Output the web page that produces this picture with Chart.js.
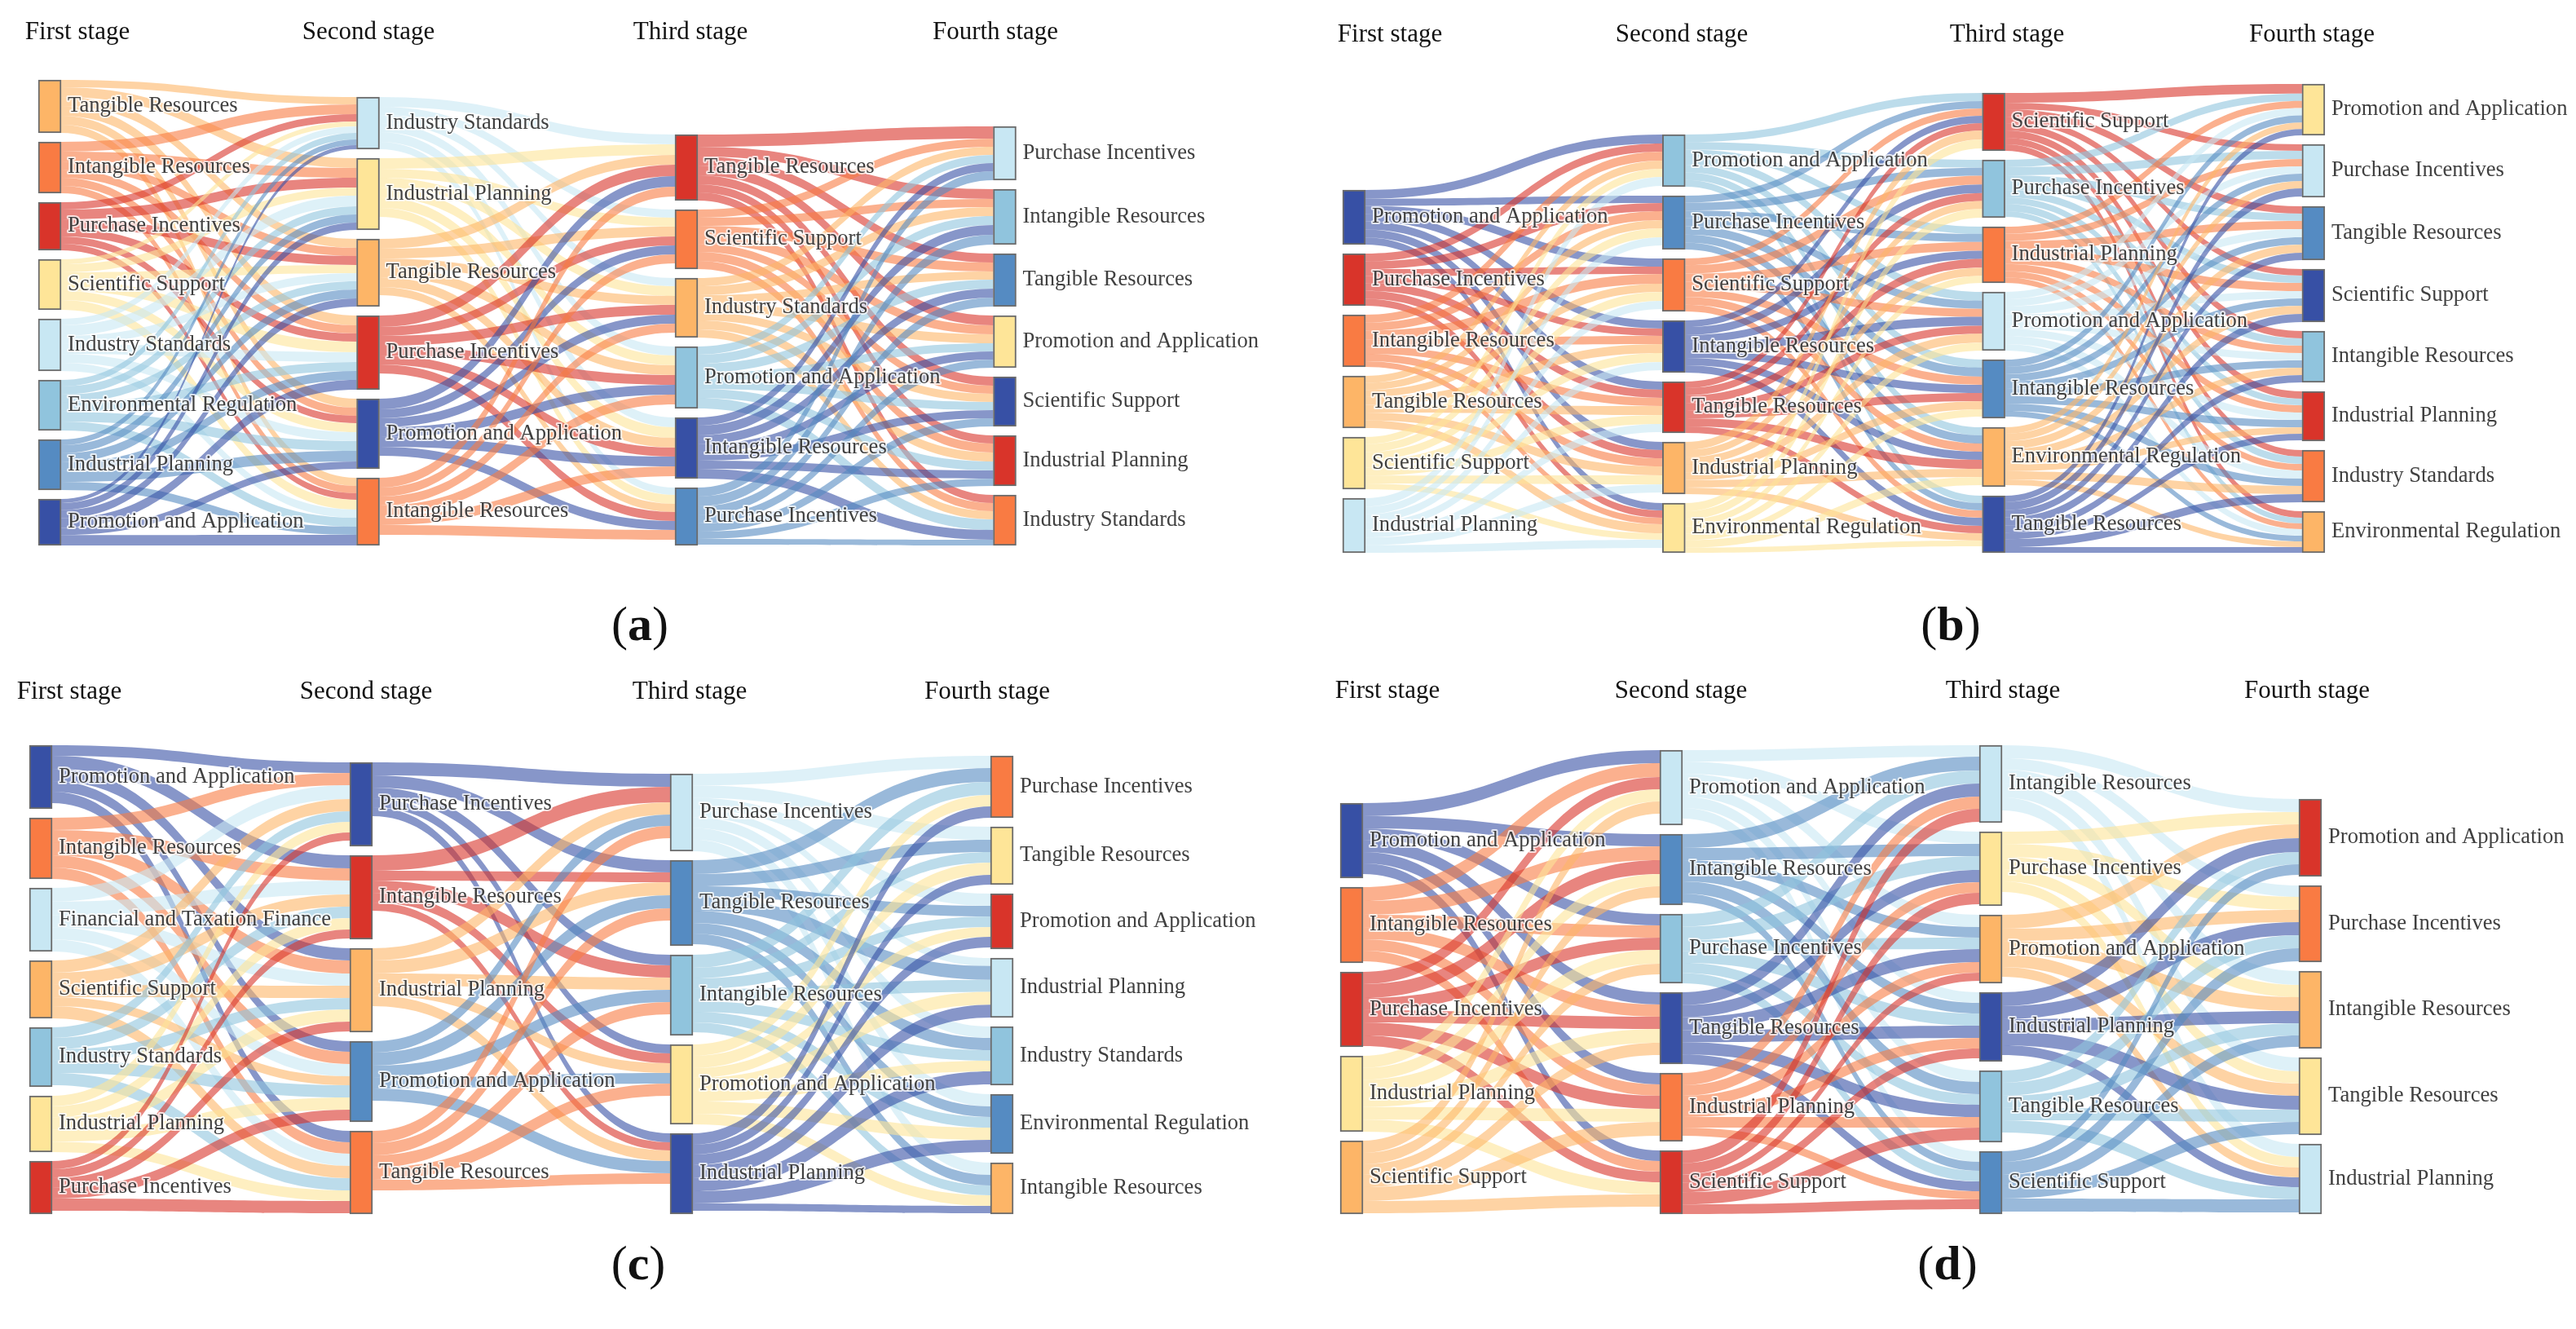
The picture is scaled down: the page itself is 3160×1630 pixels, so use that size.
<!DOCTYPE html>
<html>
<head>
<meta charset="utf-8">
<title>Sankey stages</title>
<script src="https://cdn.jsdelivr.net/npm/chart.js@4/dist/chart.umd.min.js"></script>
<style>
  html, body { margin: 0; padding: 0; background: #fff; }
  #page { position: relative; width: 3160px; height: 1630px; overflow: hidden; }
  canvas { position: absolute; }
  .caption { position: absolute; font: 60px "Liberation Serif", serif; color: #111; width: 120px; text-align: center; }
</style>
</head>
<body>
<div id="page">
  <canvas id="panelA"></canvas>
  <canvas id="panelB"></canvas>
  <canvas id="panelC"></canvas>
  <canvas id="panelD"></canvas>
  <div class="caption" style="left:725px;top:731px">(<b>a</b>)</div>
  <div class="caption" style="left:2333px;top:731px">(<b>b</b>)</div>
  <div class="caption" style="left:723px;top:1515px">(<b>c</b>)</div>
  <div class="caption" style="left:2329px;top:1515px">(<b>d</b>)</div>
</div>
<script>
// ─── DATA ───
const stageNames = ['First stage', 'Second stage', 'Third stage', 'Fourth stage'];

// panel (a)
const aLabels = [
  ['Tangible Resources', 'Intangible Resources', 'Purchase Incentives', 'Scientific Support', 'Industry Standards', 'Environmental Regulation', 'Industrial Planning', 'Promotion and Application'],
  ['Industry Standards', 'Industrial Planning', 'Tangible Resources', 'Purchase Incentives', 'Promotion and Application', 'Intangible Resources'],
  ['Tangible Resources', 'Scientific Support', 'Industry Standards', 'Promotion and Application', 'Intangible Resources', 'Purchase Incentives'],
  ['Purchase Incentives', 'Intangible Resources', 'Tangible Resources', 'Promotion and Application', 'Scientific Support', 'Industrial Planning', 'Industry Standards'],
];
const aNodes = [
  [65, 63, 59, 62, 64, 62, 62, 57],
  [64, 88, 83, 91, 86, 83],
  [81, 73, 73, 76, 75, 71],
  [66, 68, 65, 64, 61, 62, 62],
];
const aFlows = [
  [[9, 12, 11, 12, 11, 10], [12, 12, 10, 10, 10, 9], [9, 12, 11, 10, 9, 8], [6, 10, 10, 13, 11, 12],
   [8, 13, 10, 12, 11, 10], [8, 10, 10, 11, 12, 11], [7, 10, 11, 11, 13, 10], [5, 9, 10, 12, 9, 13]],
  [[12, 10, 10, 11, 12, 9], [13, 11, 12, 12, 13, 11], [12, 12, 11, 12, 12, 10],
   [14, 11, 12, 12, 11, 11], [13, 11, 11, 12, 12, 11], [12, 11, 11, 12, 12, 12]],
  [[15, 12, 11, 12, 11, 10, 10], [10, 10, 11, 11, 10, 11, 10], [10, 11, 10, 11, 10, 11, 10],
   [10, 11, 11, 10, 10, 11, 13], [10, 12, 11, 10, 10, 10, 12], [11, 12, 11, 10, 10, 9, 7]],
];

// panel (b)
const bLabels = [
  ['Promotion and Application', 'Purchase Incentives', 'Intangible Resources', 'Tangible Resources', 'Scientific Support', 'Industrial Planning'],
  ['Promotion and Application', 'Purchase Incentives', 'Scientific Support', 'Intangible Resources', 'Tangible Resources', 'Industrial Planning', 'Environmental Regulation'],
  ['Scientific Support', 'Purchase Incentives', 'Industrial Planning', 'Promotion and Application', 'Intangible Resources', 'Environmental Regulation', 'Tangible Resources'],
  ['Promotion and Application', 'Purchase Incentives', 'Tangible Resources', 'Scientific Support', 'Intangible Resources', 'Industrial Planning', 'Industry Standards', 'Environmental Regulation'],
];
const bNodes = [
  [67, 64, 64, 64, 64, 67],
  [64, 66, 65, 64, 63, 64, 61],
  [71, 71, 69, 72, 72, 73, 70],
  [63, 65, 66, 65, 63, 61, 64, 51],
];
const bFlows = [
  [[11, 9, 10, 10, 10, 10, 9], [10, 10, 9, 9, 10, 10, 9], [11, 11, 12, 10, 10, 10, 8],
   [10, 10, 10, 11, 11, 11, 11], [10, 11, 11, 11, 11, 11, 8], [11, 10, 10, 10, 10, 10, 10]],
  [[10, 10, 9, 11, 10, 10, 9], [9, 10, 10, 10, 11, 10, 9], [9, 11, 11, 10, 10, 10, 9], [9, 11, 10, 11, 10, 10, 10],
   [9, 10, 11, 10, 10, 11, 9], [11, 10, 10, 11, 10, 10, 9], [11, 11, 9, 10, 9, 10, 7]],
  [[12, 8, 9, 8, 9, 9, 8, 8], [9, 10, 9, 9, 9, 8, 9, 7], [9, 9, 10, 10, 9, 9, 8, 7], [9, 9, 10, 9, 9, 9, 10, 8],
   [9, 9, 9, 9, 9, 9, 9, 7], [8, 9, 10, 10, 9, 8, 10, 7], [8, 10, 9, 10, 9, 8, 10, 7]],
];

// panel (c)
const cLabels = [
  ['Promotion and Application', 'Intangible Resources', 'Financial and Taxation Finance', 'Scientific Support', 'Industry Standards', 'Industrial Planning', 'Purchase Incentives'],
  ['Purchase Incentives', 'Intangible Resources', 'Industrial Planning', 'Promotion and Application', 'Tangible Resources'],
  ['Purchase Incentives', 'Tangible Resources', 'Intangible Resources', 'Promotion and Application', 'Industrial Planning'],
  ['Purchase Incentives', 'Tangible Resources', 'Promotion and Application', 'Industrial Planning', 'Industry Standards', 'Environmental Regulation', 'Intangible Resources'],
];
const cNodes = [
  [78, 75, 78, 71, 73, 69, 65],
  [103, 103, 103, 99, 102],
  [95, 105, 99, 98, 99],
  [76, 71, 68, 73, 72, 73, 63],
];
const cFlows = [
  [[13, 16, 15, 13, 14], [15, 15, 16, 15, 14], [17, 17, 15, 15, 15], [15, 15, 15, 11, 15],
   [13, 14, 14, 15, 15], [13, 14, 15, 15, 13], [10, 11, 12, 13, 15]],
  [[16, 15, 13, 11, 11], [19, 12, 15, 12, 10], [15, 16, 15, 12, 13], [14, 16, 15, 13, 15], [15, 15, 15, 15, 13]],
  [[15, 16, 15, 10, 14, 15, 15], [17, 15, 13, 17, 15, 13, 13], [16, 13, 13, 15, 13, 13, 12],
   [14, 15, 12, 16, 13, 15, 13], [14, 12, 13, 16, 16, 15, 9]],
];

// panel (d)
const dLabels = [
  ['Promotion and Application', 'Intangible Resources', 'Purchase Incentives', 'Industrial Planning', 'Scientific Support'],
  ['Promotion and Application', 'Intangible Resources', 'Purchase Incentives', 'Tangible Resources', 'Industrial Planning', 'Scientific Support'],
  ['Intangible Resources', 'Purchase Incentives', 'Promotion and Application', 'Industrial Planning', 'Tangible Resources', 'Scientific Support'],
  ['Promotion and Application', 'Purchase Incentives', 'Intangible Resources', 'Tangible Resources', 'Industrial Planning'],
];
const dNodes = [
  [92, 93, 92, 93, 90],
  [92, 87, 85, 88, 84, 78],
  [95, 91, 84, 85, 88, 77],
  [95, 94, 95, 95, 86],
];
const dFlows = [
  [[16, 15, 14, 15, 14, 13], [17, 17, 15, 15, 14, 13], [15, 17, 15, 15, 16, 13], [15, 15, 17, 17, 16, 15], [15, 14, 13, 15, 17, 15]],
  [[14, 15, 15, 13, 14, 13], [17, 15, 13, 13, 15, 11], [16, 17, 14, 15, 13, 13], [16, 15, 16, 15, 15, 12],
   [15, 13, 13, 13, 13, 10], [16, 14, 10, 12, 15, 12]],
  [[16, 14, 17, 17, 16], [15, 16, 15, 15, 13], [17, 15, 17, 15, 12], [17, 16, 15, 17, 12], [15, 16, 15, 15, 15], [13, 16, 14, 15, 16]],
];

// ─── STYLE ───
const tones = {
  red: '#d9342a', org: '#f97b43', lor: '#fdb567', yel: '#fee598',
  lbl: '#c8e7f3', mbl: '#90c4dd', blu: '#558bc2', dbl: '#3750a5',
};
const aTones = [
  ['lor', 'org', 'red', 'yel', 'lbl', 'mbl', 'blu', 'dbl'],
  ['lbl', 'yel', 'lor', 'red', 'dbl', 'org'],
  ['red', 'org', 'lor', 'mbl', 'dbl', 'blu'],
  ['lbl', 'mbl', 'blu', 'yel', 'dbl', 'red', 'org'],
];
const bTones = [
  ['dbl', 'red', 'org', 'lor', 'yel', 'lbl'],
  ['mbl', 'blu', 'org', 'dbl', 'red', 'lor', 'yel'],
  ['red', 'mbl', 'org', 'lbl', 'blu', 'lor', 'dbl'],
  ['yel', 'lbl', 'blu', 'dbl', 'mbl', 'red', 'org', 'lor'],
];
const cTones = [
  ['dbl', 'org', 'lbl', 'lor', 'mbl', 'yel', 'red'],
  ['dbl', 'red', 'lor', 'blu', 'org'],
  ['lbl', 'blu', 'mbl', 'yel', 'dbl'],
  ['org', 'yel', 'red', 'lbl', 'mbl', 'blu', 'lor'],
];
const dTones = [
  ['dbl', 'org', 'red', 'yel', 'lor'],
  ['lbl', 'blu', 'mbl', 'dbl', 'org', 'red'],
  ['lbl', 'yel', 'lor', 'dbl', 'mbl', 'blu'],
  ['red', 'org', 'lor', 'yel', 'lbl'],
];

const NODE_W = 28;
const NODE_GAP = 11;
const LINK_ALPHA = 0.6;

// helper: hex + alpha → rgba string
function rgba(hex, a) {
  const n = parseInt(hex.slice(1), 16);
  return `rgba(${n >> 16},${(n >> 8) & 255},${n & 255},${a})`;
}

// stack one stage's nodes upward from value 0, first node on top
function stackStage(values) {
  const total = values.reduce((s, v) => s + v, 0) + NODE_GAP * (values.length - 1);
  let top = total;
  return values.map(v => {
    const span = [top - v, top];
    top -= v + NODE_GAP;
    return span;
  });
}

// ─── SANKEY PLUGIN (links under the bars, text above) ───
const sankeyPlugin = {
  id: 'sankey',
  beforeDatasetsDraw(chart, args, opts) {
    const { ctx, scales: { x, y } } = chart;
    opts.flows.forEach((matrix, s) => {
      const from = opts.spans[s], to = opts.spans[s + 1];
      const x0 = x.getPixelForValue(s) + NODE_W / 2;
      const x1 = x.getPixelForValue(s + 1) - NODE_W / 2;
      const cx = (x0 + x1) / 2;
      const colSums = to.map((_, j) => matrix.reduce((t, row) => t + row[j], 0));
      const inUsed = to.map(() => 0);
      matrix.forEach((row, i) => {
        const rowSum = row.reduce((t, v) => t + v, 0);
        const kOut = Math.min(1, (from[i][1] - from[i][0]) / rowSum);
        let outUsed = 0;
        ctx.fillStyle = rgba(tones[opts.tones[s][i]], LINK_ALPHA);
        row.forEach((v, j) => {
          const kIn = Math.min(1, (to[j][1] - to[j][0]) / colSums[j]);
          const a0 = y.getPixelForValue(from[i][1] - outUsed);
          const a1 = y.getPixelForValue(from[i][1] - outUsed - v * kOut);
          const b0 = y.getPixelForValue(to[j][1] - inUsed[j]);
          const b1 = y.getPixelForValue(to[j][1] - inUsed[j] - v * kIn);
          outUsed += v * kOut;
          inUsed[j] += v * kIn;
          ctx.beginPath();
          ctx.moveTo(x0, a0);
          ctx.bezierCurveTo(cx, a0, cx, b0, x1, b0);
          ctx.lineTo(x1, b1);
          ctx.bezierCurveTo(cx, b1, cx, a1, x0, a1);
          ctx.closePath();
          ctx.fill();
        });
      });
    });
  },
  afterDatasetsDraw(chart, args, opts) {
    const { ctx, scales: { x, y } } = chart;
    ctx.save();
    ctx.textBaseline = 'middle';
    ctx.textAlign = 'left';
    ctx.font = '26.6px "Liberation Serif"';
    ctx.lineJoin = 'round';
    opts.labels.forEach((stage, s) => {
      const tx = x.getPixelForValue(s) + NODE_W / 2 + 8;
      stage.forEach((text, i) => {
        const ty = y.getPixelForValue((opts.spans[s][i][0] + opts.spans[s][i][1]) / 2);
        ctx.strokeStyle = 'rgba(255,255,255,0.75)';
        ctx.lineWidth = 4;
        ctx.strokeText(text, tx, ty);
        ctx.fillStyle = '#404040';
        ctx.fillText(text, tx, ty);
      });
    });
    ctx.font = '31px "Liberation Serif"';
    ctx.textAlign = 'center';
    ctx.textBaseline = 'alphabetic';
    ctx.fillStyle = '#111';
    stageNames.forEach((name, s) => ctx.fillText(name, opts.titleX[s], opts.titleY));
    ctx.restore();
  },
};

// ─── BUILD A PANEL ───
function drawPanel(cfg) {
  const el = document.getElementById(cfg.id);
  el.style.left = cfg.left + 'px';
  el.style.top = cfg.top + 'px';
  el.width = cfg.width;
  el.height = cfg.height;

  const spans = cfg.nodes.map(stackStage);
  const points = [], fills = [];
  spans.forEach((stage, s) => stage.forEach((span, i) => {
    points.push({ x: s, y: span });
    fills.push(tones[cfg.tones[s][i]]);
  }));

  new Chart(el, {
    type: 'bar',
    data: {
      datasets: [{
        data: points,
        backgroundColor: fills,
        borderColor: '#6b6b6b',
        borderWidth: 2,
        borderSkipped: false,
        barThickness: NODE_W,
      }],
    },
    options: {
      responsive: false,
      animation: false,
      devicePixelRatio: 1,
      layout: { padding: 0 },
      plugins: {
        legend: { display: false },
        tooltip: { enabled: false },
        sankey: { flows: cfg.flows, spans, tones: cfg.tones, labels: cfg.labels, titleX: cfg.titleX, titleY: cfg.titleY },
      },
      scales: {
        x: {
          type: 'linear', display: false, offset: false,
          min: -cfg.firstNode / cfg.step,
          max: (cfg.width - cfg.firstNode) / cfg.step,
        },
        y: { type: 'linear', display: false, min: cfg.baseline - cfg.height, max: cfg.baseline },
      },
    },
    plugins: [sankeyPlugin],
  });
}

drawPanel({ id: 'panelA', left: 0, top: 0, width: 1580, height: 740, baseline: 669, firstNode: 61, step: 390.5,
  nodes: aNodes, flows: aFlows, labels: aLabels, tones: aTones, titleX: [95, 452, 847, 1221], titleY: 48 });
drawPanel({ id: 'panelB', left: 1580, top: 0, width: 1580, height: 740, baseline: 678, firstNode: 81, step: 392.3,
  nodes: bNodes, flows: bFlows, labels: bLabels, tones: bTones, titleX: [125, 483, 882, 1256], titleY: 51 });
drawPanel({ id: 'panelC', left: 0, top: 800, width: 1580, height: 730, baseline: 689, firstNode: 50, step: 393,
  nodes: cNodes, flows: cFlows, labels: cLabels, tones: cTones, titleX: [85, 449, 846, 1211], titleY: 57 });
drawPanel({ id: 'panelD', left: 1580, top: 800, width: 1580, height: 730, baseline: 689, firstNode: 78, step: 392,
  nodes: dNodes, flows: dFlows, labels: dLabels, tones: dTones, titleX: [122, 482, 877, 1250], titleY: 56 });
</script>
</body>
</html>
